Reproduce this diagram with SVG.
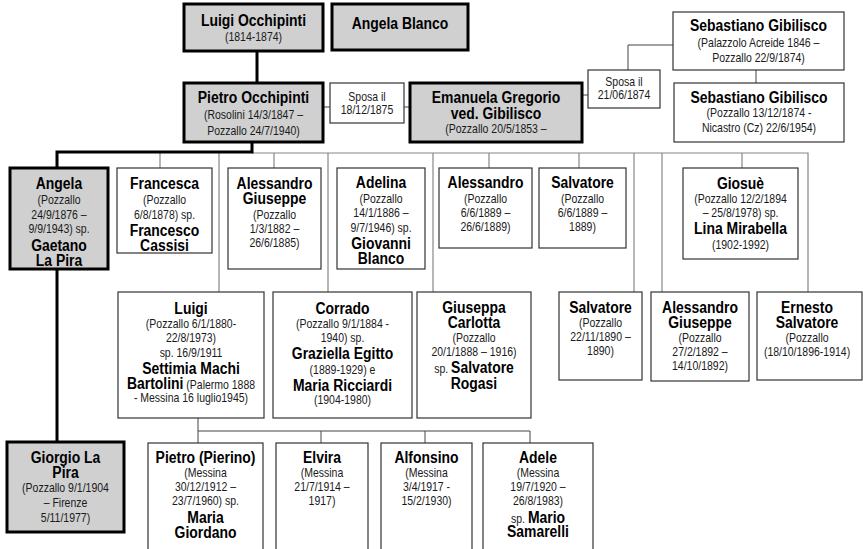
<svg xmlns="http://www.w3.org/2000/svg" width="863" height="549" viewBox="0 0 863 549">
<style>
text{font-family:"Liberation Sans","Arial",sans-serif;text-anchor:middle}
.n{font-weight:bold;font-size:17px;fill:#000}
.d{font-size:12.8px;fill:#1a1a1a}
.b{font-weight:bold;font-size:17px;fill:#000}
.s{font-weight:normal;font-size:12.8px;fill:#1a1a1a}
.g{fill:#d0d0d0;stroke:#000;stroke-width:3}
.w{fill:#fff;stroke:#333;stroke-width:1.2}
.tk{fill:none;stroke:#000;stroke-width:3}
.tn{fill:none;stroke:#888;stroke-width:1.2}
.td{fill:none;stroke:#444;stroke-width:1}
</style>
<rect width="863" height="549" fill="#fff"/>
<g id="connectors">
<path class="tn" d="M252,153 H808 V292"/>
<path class="tn" d="M160,153 V168 M219,153 V292 M274,153 V168 M328,153 V292 M433,153 V292 M489,153 V168 M579,153 V168 M634,153 V292 M662,153 V292 M742,153 V168"/>
<path class="tk" d="M257,51 V83"/>
<path class="tk" d="M252,142 V152 H57 V168"/>
<path class="tk" d="M57,268 V442"/>
<path class="td" d="M323,107 H330 M404,107 H410 M582,95 H588 M628,70 V45 H673 M756,70 V83"/>
<path class="td" d="M198,418 V443 M198,431 H530 V443 M321,431 V443 M425,431 V443"/>
</g>
<g id="luigi-occhipinti"><rect class="g" x="184" y="4" width="139" height="47"/>
<g transform="translate(253.5 0) scale(0.82 1)"><text class="n" x="0" y="26">Luigi Occhipinti</text><text class="d" x="0" y="41">(1814-1874)</text></g></g>
<g id="angela-blanco"><rect class="g" x="332" y="4" width="136" height="46"/>
<g transform="translate(400 0) scale(0.82 1)"><text class="n" x="0" y="29">Angela Blanco</text></g></g>
<g id="pietro-occhipinti"><rect class="g" x="184" y="83" width="139" height="59"/>
<g transform="translate(253.5 0) scale(0.82 1)"><text class="n" x="0" y="103">Pietro Occhipinti</text><text class="d" x="0" y="119.5">(Rosolini 14/3/1847 –</text><text class="d" x="0" y="135.5">Pozzallo 24/7/1940)</text></g></g>
<g id="sposa-1875"><rect class="w" x="330" y="83" width="74" height="40"/>
<g transform="translate(367 0) scale(0.82 1)"><text class="d" x="0" y="101.5">Sposa il</text><text class="d" x="0" y="114.5">18/12/1875</text></g></g>
<g id="emanuela-gregorio"><rect class="g" x="410" y="83" width="172" height="59"/>
<g transform="translate(496 0) scale(0.82 1)"><text class="n" x="0" y="103">Emanuela Gregorio</text><text class="n" x="0" y="119">ved. Gibilisco</text><text class="d" x="0" y="133">(Pozzallo 20/5/1853 –</text></g></g>
<g id="sposa-1874"><rect class="w" x="588" y="70" width="72" height="38"/>
<g transform="translate(624 0) scale(0.82 1)"><text class="d" x="0" y="86.5">Sposa il</text><text class="d" x="0" y="99.5">21/06/1874</text></g></g>
<g id="sebastiano-1"><rect class="w" x="673" y="12" width="171" height="58"/>
<g transform="translate(758.5 0) scale(0.82 1)"><text class="n" x="0" y="31">Sebastiano Gibilisco</text><text class="d" x="0" y="47.5">(Palazzolo Acreide 1846 –</text><text class="d" x="0" y="62.5">Pozzallo 22/9/1874)</text></g></g>
<g id="sebastiano-2"><rect class="w" x="674" y="83" width="170" height="59"/>
<g transform="translate(759 0) scale(0.82 1)"><text class="n" x="0" y="103">Sebastiano Gibilisco</text><text class="d" x="0" y="117.5">(Pozzallo 13/12/1874 -</text><text class="d" x="0" y="132.5">Nicastro (Cz) 22/6/1954)</text></g></g>
<g id="angela"><rect class="g" x="10" y="168" width="98" height="101"/>
<g transform="translate(59 0) scale(0.82 1)"><text class="n" x="0" y="189">Angela</text><text class="d" x="0" y="204.5">(Pozzallo</text><text class="d" x="0" y="219">24/9/1876 –</text><text class="d" x="0" y="233">9/9/1943) sp.</text><text class="n" x="0" y="251">Gaetano</text><text class="n" x="0" y="266">La Pira</text></g></g>
<g id="francesca"><rect class="w" x="117" y="168" width="95" height="85"/>
<g transform="translate(164.5 0) scale(0.82 1)"><text class="n" x="0" y="189">Francesca</text><text class="d" x="0" y="204.5">(Pozzallo</text><text class="d" x="0" y="219">6/8/1878) sp.</text><text class="n" x="0" y="236">Francesco</text><text class="n" x="0" y="251">Cassisi</text></g></g>
<g id="alessandro-giuseppe-1"><rect class="w" x="228" y="168" width="93" height="101"/>
<g transform="translate(274.5 0) scale(0.82 1)"><text class="n" x="0" y="189">Alessandro</text><text class="n" x="0" y="204">Giuseppe</text><text class="d" x="0" y="219.5">(Pozzallo</text><text class="d" x="0" y="233.5">1/3/1882 –</text><text class="d" x="0" y="247.5">26/6/1885)</text></g></g>
<g id="adelina"><rect class="w" x="337" y="168" width="88" height="101"/>
<g transform="translate(381 0) scale(0.82 1)"><text class="n" x="0" y="188">Adelina</text><text class="d" x="0" y="203.5">(Pozzallo</text><text class="d" x="0" y="217.5">14/1/1886 –</text><text class="d" x="0" y="232.5">9/7/1946) sp.</text><text class="n" x="0" y="249">Giovanni</text><text class="n" x="0" y="264">Blanco</text></g></g>
<g id="alessandro"><rect class="w" x="439" y="168" width="93" height="80"/>
<g transform="translate(485.5 0) scale(0.82 1)"><text class="n" x="0" y="188">Alessandro</text><text class="d" x="0" y="203.5">(Pozzallo</text><text class="d" x="0" y="217.5">6/6/1889 –</text><text class="d" x="0" y="231.5">26/6/1889)</text></g></g>
<g id="salvatore-1"><rect class="w" x="539" y="168" width="87" height="80"/>
<g transform="translate(582.5 0) scale(0.82 1)"><text class="n" x="0" y="188">Salvatore</text><text class="d" x="0" y="203.5">(Pozzallo</text><text class="d" x="0" y="217.5">6/6/1889 –</text><text class="d" x="0" y="231.5">1889)</text></g></g>
<g id="giosue"><rect class="w" x="683" y="168" width="115" height="91"/>
<g transform="translate(740.5 0) scale(0.82 1)"><text class="n" x="0" y="189">Giosuè</text><text class="d" x="0" y="203.5">(Pozzallo 12/2/1894</text><text class="d" x="0" y="217.5">– 25/8/1978) sp.</text><text class="n" x="0" y="234">Lina Mirabella</text><text class="d" x="0" y="249.5">(1902-1992)</text></g></g>
<g id="luigi"><rect class="w" x="118" y="292" width="146" height="126"/>
<g transform="translate(191 0) scale(0.82 1)"><text class="n" x="0" y="314">Luigi</text><text class="d" x="0" y="328.5">(Pozzallo 6/1/1880-</text><text class="d" x="0" y="342.5">22/8/1973)</text><text class="d" x="0" y="357.5">sp. 16/9/1911</text><text class="n" x="0" y="374">Settimia Machi</text><text x="0" y="389"><tspan class="b">Bartolini</tspan><tspan class="s"> (Palermo 1888</tspan></text><text class="d" x="0" y="402.5">- Messina 16 luglio1945)</text></g></g>
<g id="corrado"><rect class="w" x="273" y="292" width="139" height="126"/>
<g transform="translate(342.5 0) scale(0.82 1)"><text class="n" x="0" y="314">Corrado</text><text class="d" x="0" y="328.5">(Pozzallo 9/1/1884 -</text><text class="d" x="0" y="342.5">1940) sp.</text><text class="n" x="0" y="359">Graziella Egitto</text><text class="d" x="0" y="374.5">(1889-1929) e</text><text class="n" x="0" y="391">Maria Ricciardi</text><text class="d" x="0" y="404.5">(1904-1980)</text></g></g>
<g id="giuseppa-carlotta"><rect class="w" x="417" y="292" width="114" height="126"/>
<g transform="translate(474 0) scale(0.82 1)"><text class="n" x="0" y="313">Giuseppa</text><text class="n" x="0" y="328">Carlotta</text><text class="d" x="0" y="342.5">(Pozzallo</text><text class="d" x="0" y="356.5">20/1/1888 – 1916)</text><text x="0" y="373"><tspan class="s">sp. </tspan><tspan class="b">Salvatore</tspan></text><text class="n" x="0" y="389">Rogasi</text></g></g>
<g id="salvatore-2"><rect class="w" x="559" y="292" width="83" height="88"/>
<g transform="translate(600.5 0) scale(0.82 1)"><text class="n" x="0" y="313">Salvatore</text><text class="d" x="0" y="327.5">(Pozzallo</text><text class="d" x="0" y="341.5">22/11/1890 –</text><text class="d" x="0" y="355.5">1890)</text></g></g>
<g id="alessandro-giuseppe-2"><rect class="w" x="651" y="292" width="98" height="89"/>
<g transform="translate(700 0) scale(0.82 1)"><text class="n" x="0" y="313">Alessandro</text><text class="n" x="0" y="328">Giuseppe</text><text class="d" x="0" y="342.5">(Pozzallo</text><text class="d" x="0" y="356.5">27/2/1892 –</text><text class="d" x="0" y="370.5">14/10/1892)</text></g></g>
<g id="ernesto-salvatore"><rect class="w" x="757" y="292" width="105" height="88"/>
<g transform="translate(807 0) scale(0.82 1)"><text class="n" x="0" y="313">Ernesto</text><text class="n" x="0" y="328">Salvatore</text><text class="d" x="0" y="342.5">(Pozzallo</text><text class="d" x="0" y="356.5">(18/10/1896-1914)</text></g></g>
<g id="giorgio-la-pira"><rect class="g" x="7" y="442" width="117" height="90"/>
<g transform="translate(65.5 0) scale(0.82 1)"><text class="n" x="0" y="463">Giorgio La</text><text class="n" x="0" y="478">Pira</text><text class="d" x="0" y="492.5">(Pozzallo 9/1/1904</text><text class="d" x="0" y="507.5">– Firenze</text><text class="d" x="0" y="522.5">5/11/1977)</text></g></g>
<g id="pietro-pierino"><rect class="w" x="148" y="443" width="115" height="120"/>
<g transform="translate(205.5 0) scale(0.82 1)"><text class="n" x="0" y="463">Pietro (Pierino)</text><text class="d" x="0" y="477.5">(Messina</text><text class="d" x="0" y="491.5">30/12/1912 –</text><text class="d" x="0" y="505.5">23/7/1960) sp.</text><text class="n" x="0" y="523">Maria</text><text class="n" x="0" y="538">Giordano</text></g></g>
<g id="elvira"><rect class="w" x="276" y="443" width="92" height="120"/>
<g transform="translate(322 0) scale(0.82 1)"><text class="n" x="0" y="463">Elvira</text><text class="d" x="0" y="477.5">(Messina</text><text class="d" x="0" y="491.5">21/7/1914 –</text><text class="d" x="0" y="505.5">1917)</text></g></g>
<g id="alfonsino"><rect class="w" x="381" y="443" width="91" height="120"/>
<g transform="translate(426.5 0) scale(0.82 1)"><text class="n" x="0" y="463">Alfonsino</text><text class="d" x="0" y="477.5">(Messina</text><text class="d" x="0" y="491.5">3/4/1917 -</text><text class="d" x="0" y="505.5">15/2/1930)</text></g></g>
<g id="adele"><rect class="w" x="483" y="443" width="110" height="120"/>
<g transform="translate(538 0) scale(0.82 1)"><text class="n" x="0" y="463">Adele</text><text class="d" x="0" y="477.5">(Messina</text><text class="d" x="0" y="491.5">19/7/1920 –</text><text class="d" x="0" y="505.5">26/8/1983)</text><text x="0" y="523"><tspan class="s">sp. </tspan><tspan class="b">Mario</tspan></text><text class="n" x="0" y="537">Samarelli</text></g></g>
</svg>
